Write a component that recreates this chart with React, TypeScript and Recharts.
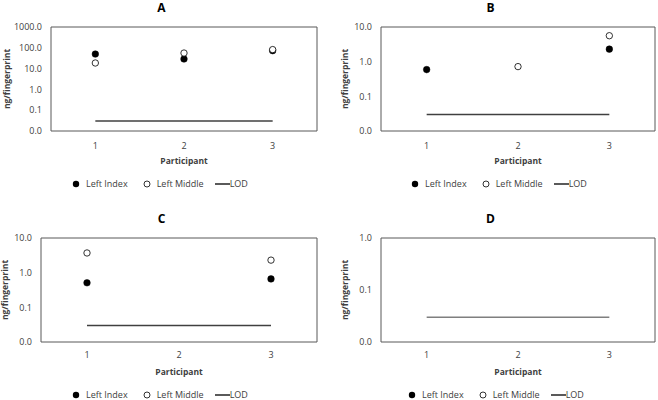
import React from 'react';
import { ComposedChart, Line, XAxis, YAxis } from 'recharts';

// participants on the x axis
const participants = ['1', '2', '3'];

// ng/fingerprint per panel (null = not detected / not shown)
const aLeftIndex = [50, 29, 73];
const aLeftMiddle = [18.6, 56, 82];
const aLod = [0.03, 0.03, 0.03];

const bLeftIndex = [0.59, null, 2.3];
const bLeftMiddle = [null, 0.72, 5.6];
const bLod = [0.03, 0.03, 0.03];

const cLeftIndex = [0.51, null, 0.66];
const cLeftMiddle = [3.7, null, 2.3];
const cLod = [0.03, 0.03, 0.03];

const dLeftIndex = [null, null, null];
const dLeftMiddle = [null, null, null];
const dLod = [0.03, 0.03, 0.03];

const ticksA = [0.01, 0.1, 1, 10, 100, 1000];
const ticksBC = [0.01, 0.1, 1, 10];
const ticksD = [0.01, 0.1, 1];

const FONT = '"Open Sans", sans-serif';
const TEXT = '#404040';
const BORDER = '#595959';

type Val = number | null;

interface PanelProps {
  title: string;
  left: number;
  top: number;
  index: Val[];
  middle: Val[];
  lod: number[];
  ticks: number[];
  yWidth: number;
  right: number;
  yTitleX: number;
  tickGap: number;
  legendX: number;
  lodColor: string;
}

const fmt = (v: number) => v.toFixed(1);

function Legend({ x }: { x: number }) {
  return (
    <div
      style={{
        position: 'absolute',
        left: x - 4,
        top: 177,
        display: 'flex',
        alignItems: 'center',
        fontFamily: FONT,
        fontSize: 9,
        color: TEXT,
        whiteSpace: 'nowrap',
      }}
    >
      <svg width={8} height={8}>
        <circle cx={4} cy={4} r={3.2} fill="#000" />
      </svg>
      <span style={{ marginLeft: 6 }}>Left Index</span>
      <svg width={8} height={8} style={{ marginLeft: 15 }}>
        <circle cx={4} cy={4} r={3} fill="#fff" stroke="#000" strokeWidth={0.8} />
      </svg>
      <span style={{ marginLeft: 6 }}>Left Middle</span>
      <svg width={15} height={8} style={{ marginLeft: 11 }}>
        <line x1={0} y1={4} x2={15} y2={4} stroke="#000" strokeWidth={1.3} />
      </svg>
      <span>LOD</span>
    </div>
  );
}

function Panel(p: PanelProps) {
  const data = participants.map((name, i) => ({
    name,
    index: p.index[i],
    middle: p.middle[i],
    lod: p.lod[i],
  }));
  const yTitleX = p.yTitleX;
  return (
    <div style={{ position: 'absolute', left: p.left, top: p.top, width: 329, height: 200 }}>
      <div
        style={{
          position: 'absolute',
          left: 0,
          width: 329,
          top: 1,
          textAlign: 'center',
          fontFamily: FONT,
          fontWeight: 700,
          fontSize: 12,
          lineHeight: '13px',
          color: '#000',
          paddingRight: 6,
          boxSizing: 'border-box',
        }}
      >
        {p.title}
      </div>
      <ComposedChart
        width={329}
        height={200}
        data={data}
        margin={{ top: 26, right: p.right - 1, left: 0, bottom: 33 }}
      >
        <XAxis
          dataKey="name"
          scale="band"
          height={36}
          tickLine={false}
          tickSize={6}
          tickMargin={p.tickGap}
          axisLine={{ stroke: BORDER }}
          tick={{ fill: TEXT, fontSize: 9, fontFamily: FONT }}
          label={{
            content: ({ viewBox }: any) => (
              <text
                x={viewBox.x + viewBox.width / 2}
                y={viewBox.y + 29}
                textAnchor="middle"
                dominantBaseline="central"
                fontFamily={FONT}
                fontSize={8.5}
                fontWeight={700}
                fill={TEXT}
              >
                Participant
              </text>
            ),
          }}
        />
        <XAxis
          xAxisId="top"
          orientation="top"
          dataKey="name"
          scale="band"
          height={1}
          tick={false}
          tickLine={false}
          axisLine={{ stroke: BORDER }}
        />
        <YAxis
          scale="log"
          domain={[p.ticks[0], p.ticks[p.ticks.length - 1]]}
          ticks={p.ticks}
          allowDataOverflow
          width={p.yWidth}
          tickLine={false}
          tickMargin={3}
          tickFormatter={fmt}
          axisLine={{ stroke: BORDER }}
          tick={{ fill: TEXT, fontSize: 9, fontFamily: FONT }}
          label={{
            content: ({ viewBox }: any) => {
              const cy = viewBox.y + viewBox.height / 2;
              return (
                <text
                  x={yTitleX}
                  y={cy}
                  transform={`rotate(-90, ${yTitleX}, ${cy})`}
                  textAnchor="middle"
                  dominantBaseline="central"
                  fontFamily={FONT}
                  fontSize={8.5}
                  fontWeight={700}
                  fill={TEXT}
                >
                  ng/fingerprint
                </text>
              );
            },
          }}
        />
        <YAxis
          yAxisId="right"
          orientation="right"
          width={1}
          domain={[0, 1]}
          tick={false}
          tickLine={false}
          axisLine={{ stroke: BORDER }}
        />
        <Line
          dataKey="lod"
          stroke={p.lodColor}
          strokeWidth={1.5}
          dot={false}
          activeDot={false}
          isAnimationActive={false}
        />
        <Line
          dataKey="index"
          stroke="none"
          dot={{ r: 3.3, fill: '#000', stroke: '#000', strokeWidth: 0.5 }}
          activeDot={false}
          isAnimationActive={false}
        />
        <Line
          dataKey="middle"
          stroke="none"
          dot={{ r: 3.2, fill: '#fff', stroke: '#000', strokeWidth: 0.8 }}
          activeDot={false}
          isAnimationActive={false}
        />
      </ComposedChart>
      <Legend x={p.legendX} />
    </div>
  );
}

export default function App() {
  return (
    <div
      style={{
        position: 'absolute',
        left: 0,
        top: 0,
        width: 658,
        height: 400,
        overflow: 'hidden',
        background: '#fff',
      }}
    >
      <Panel title="A" left={0} top={0} index={aLeftIndex} middle={aLeftMiddle} lod={aLod}
        ticks={ticksA} yWidth={51} right={12} yTitleX={6} tickGap={6} legendX={76} lodColor="#404040" />
      <Panel title="B" left={329} top={0} index={bLeftIndex} middle={bLeftMiddle} lod={bLod}
        ticks={ticksBC} yWidth={52} right={3} yTitleX={15} tickGap={6} legendX={86} lodColor="#404040" />
      <Panel title="C" left={0} top={211} index={cLeftIndex} middle={cLeftMiddle} lod={cLod}
        ticks={ticksBC} yWidth={41} right={12} yTitleX={4} tickGap={4} legendX={76} lodColor="#404040" />
      <Panel title="D" left={329} top={211} index={dLeftIndex} middle={dLeftMiddle} lod={dLod}
        ticks={ticksD} yWidth={52} right={3} yTitleX={15} tickGap={4} legendX={83} lodColor="#7f7f7f" />
    </div>
  );
}
